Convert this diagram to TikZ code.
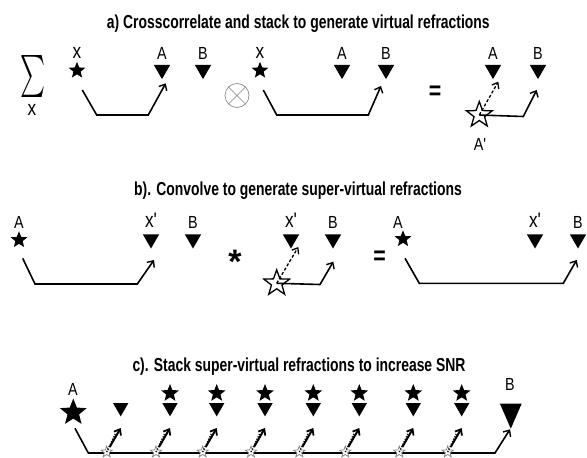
\documentclass[tikz,border=0pt]{standalone}
\usepackage{fontspec}
\setmainfont{Liberation Sans}
\newfontfamily\nsans[FakeStretch=0.82]{Liberation Sans}
\newfontfamily\tsans[FakeStretch=0.74]{Liberation Sans Bold}
\usetikzlibrary{shapes.geometric,arrows.meta}
\tikzset{
  ttl/.style={font=\tsans\fontsize{18.8}{20}\selectfont, inner sep=0, anchor=base},
  lbl/.style={font=\nsans\fontsize{17.5}{18}\selectfont, inner sep=0, anchor=base},
  xlbl/.style={font=\nsans\fontsize{21}{22}\selectfont, inner sep=0, anchor=base},
  sym/.style={font=\nsans\bfseries\fontsize{26}{26}\selectfont, inner sep=0},
  tri/.style={regular polygon, regular polygon sides=3, shape border rotate=180, fill=black, inner sep=0, minimum size=19pt},
  bigtri/.style={isosceles triangle, isosceles triangle stretches, shape border rotate=-90, fill=black, inner sep=0, minimum width=21.7pt, minimum height=25pt},
  fstar/.style={star, star points=5, star point ratio=2.3, fill=black, inner sep=0, minimum size=17.5pt},
  hstar/.style={star, star points=5, star point ratio=2.45, draw=black, fill=white, line width=1.3pt, inner sep=0, minimum size=27pt},
  sstar/.style={star, star points=5, star point ratio=2.45, draw=gray, fill=white, line width=0.7pt, inner sep=0, minimum size=12pt},
  ray/.style={line width=1.6pt, -{Straight Barb[length=5pt,width=9pt,line width=1.4pt]}},
  dray/.style={line width=1.3pt, dash pattern=on 3pt off 2pt, -{Straight Barb[length=5pt,width=8pt,line width=1.3pt]}},
  thray/.style={line width=2pt, -{Straight Barb[length=5pt,width=8pt,line width=1.8pt]}},
  dotl/.style={line width=1.4pt, dash pattern=on 1.2pt off 1.5pt},
}
\begin{document}
\begin{tikzpicture}[x=1pt,y=-1pt]
\useasboundingbox (0,0) rectangle (587,458);

% ---------------- a) ----------------
\node[ttl] (ta) at (298.3,28.5) {a) Crosscorrelate and stack to generate virtual refractions};
\node[inner sep=0] (sig) at (33,76) {\resizebox*{25pt}{42pt}{$\sum$}};
\node[xlbl] (sigx) at (32,115) {x};

\node[fstar] (ax1) at (77,70.5) {};
\node[xlbl] (ax1l) at (77,58.5) {x};
\node[tri] (aA1) at (162,69.6) {};
\node[lbl] (aA1l) at (162,59.5) {A};
\node[tri] (aB1) at (203,69.6) {};
\node[lbl] (aB1l) at (203,59.5) {B};
\coordinate (a1s) at (82.3,90);
\coordinate (a1b) at (96.7,115);
\coordinate (a1c) at (148.3,115);
\coordinate (a1t) at (165.7,83.3);
\draw[ray] (a1s) -- (a1b) -- (a1c) -- (a1t);

\node[circle, draw=gray, line width=0.6pt, minimum size=24pt, inner sep=0] (ot) at (237,95.5) {};
\draw[gray, line width=0.6pt] (ot.north west) -- (ot.south east) (ot.north east) -- (ot.south west);

\node[fstar] (ax2) at (260,70.5) {};
\node[xlbl] (ax2l) at (260,58.5) {x};
\node[tri] (aA2) at (342,69.6) {};
\node[lbl] (aA2l) at (342,59.5) {A};
\node[tri] (aB2) at (386,69.6) {};
\node[lbl] (aB2l) at (386,59.5) {B};
\coordinate (a2s) at (263.3,90);
\coordinate (a2b) at (276.7,115);
\coordinate (a2c) at (368.3,115);
\coordinate (a2t) at (381,86);
\draw[ray] (a2s) -- (a2b) -- (a2c) -- (a2t);

\node[sym] (aeq) at (435,92.5) {=};

\node[tri] (aA3) at (493,69.6) {};
\node[lbl] (aA3l) at (493,59.5) {A};
\node[tri] (aB3) at (538,69.6) {};
\node[lbl] (aB3l) at (538,59.5) {B};
\node[hstar] (aAp) at (479.3,115) {};
\node[lbl] (aApl) at (480,150) {A'};
\coordinate (a3t) at (498.3,81.7);
\coordinate (a3b) at (523.3,116.5);
\coordinate (a3t2) at (536.7,90);
\draw[dray] (aAp.center) -- (a3t);
\draw[ray] (aAp.center) -- (a3b) -- (a3t2);

% ---------------- b) ----------------
\node[ttl] (tb) at (298,195) {b). Convolve to generate super-virtual refractions};
\node[fstar] (bA1) at (19,240) {};
\node[lbl] (bA1l) at (19,228) {A};
\node[tri] (bx1) at (151,239) {};
\node[xlbl] (bx1l) at (151,227) {x'};
\node[tri] (bB1) at (193,239) {};
\node[lbl] (bB1l) at (193,228) {B};
\coordinate (b1s) at (22.7,258.3);
\coordinate (b1b) at (35,284);
\coordinate (b1c) at (137.3,284);
\coordinate (b1t) at (154,260);
\draw[ray] (b1s) -- (b1b) -- (b1c) -- (b1t);

\node[font=\bfseries\fontsize{34}{34}\selectfont, inner sep=0] (bst) at (235,262) {*};

\node[tri] (bx2) at (291,239) {};
\node[xlbl] (bx2l) at (291,227) {x'};
\node[tri] (bB2) at (333,239) {};
\node[lbl] (bB2l) at (333,228) {B};
\node[hstar] (bXp) at (276.7,283.3) {};
\coordinate (b2t) at (298.3,247);
\coordinate (b2b) at (320,284.5);
\coordinate (b2t2) at (333.3,261.7);
\draw[dray] (bXp.center) -- (b2t);
\draw[ray] (bXp.center) -- (b2b) -- (b2t2);

\node[sym] (beq) at (379.7,257.5) {=};

\node[fstar] (bA3) at (403,239) {};
\node[lbl] (bA3l) at (398,228) {A};
\node[tri] (bx3) at (535,239) {};
\node[xlbl] (bx3l) at (535,227) {x'};
\node[tri] (bB3) at (578,239) {};
\node[lbl] (bB3l) at (578,228) {B};
\coordinate (b3s) at (405,258.3);
\coordinate (b3b) at (419.3,283.3);
\coordinate (b3c) at (563.3,283.3);
\coordinate (b3t) at (576.7,260);
\draw[ray] (b3s) -- (b3b) -- (b3c) -- (b3t);

% ---------------- c) ----------------
\node[ttl] (tc) at (299,371.7) {c). Stack super-virtual refractions to increase SNR};
\node[fstar, minimum size=28pt] (cA) at (73.3,412.5) {};
\node[lbl] (cAl) at (73,395) {A};
\node[bigtri] (cB) at (510.8,410.8) {};
\node[lbl] (cBl) at (510,390) {B};
\coordinate (cs) at (75,428.3);
\coordinate (cb) at (88.3,453);
\coordinate (cc) at (495,453);
\coordinate (ct) at (510,429.3);
\draw[ray] (cs) -- (cb) -- (cc) -- (ct);

\foreach \tx [count=\i] in {120.7,170,216.7,265,313.3,359.3,413.3,461.7} {
  \node[tri, minimum size=17.5pt] (ct\i) at (\tx,407.6) {};
  \node[sstar] (cv\i) at (\tx-14,452) {};
  \coordinate (cd\i s) at (\tx-14,452);
  \coordinate (cd\i e) at (\tx-5.5,434);
  \coordinate (cr\i s) at (\tx-11,447);
  \coordinate (cr\i e) at (\tx,428);
  \draw[dotl] (cd\i s) -- (cd\i e);
  \draw[thray] (cr\i s) -- (cr\i e);
}
\foreach \tx [count=\i from 2] in {170,216.7,265,313.3,359.3,413.3,461.7} {
  \node[fstar, minimum size=18.5pt] (cs\i) at (\tx,393.3) {};
}
\end{tikzpicture}
\end{document}
